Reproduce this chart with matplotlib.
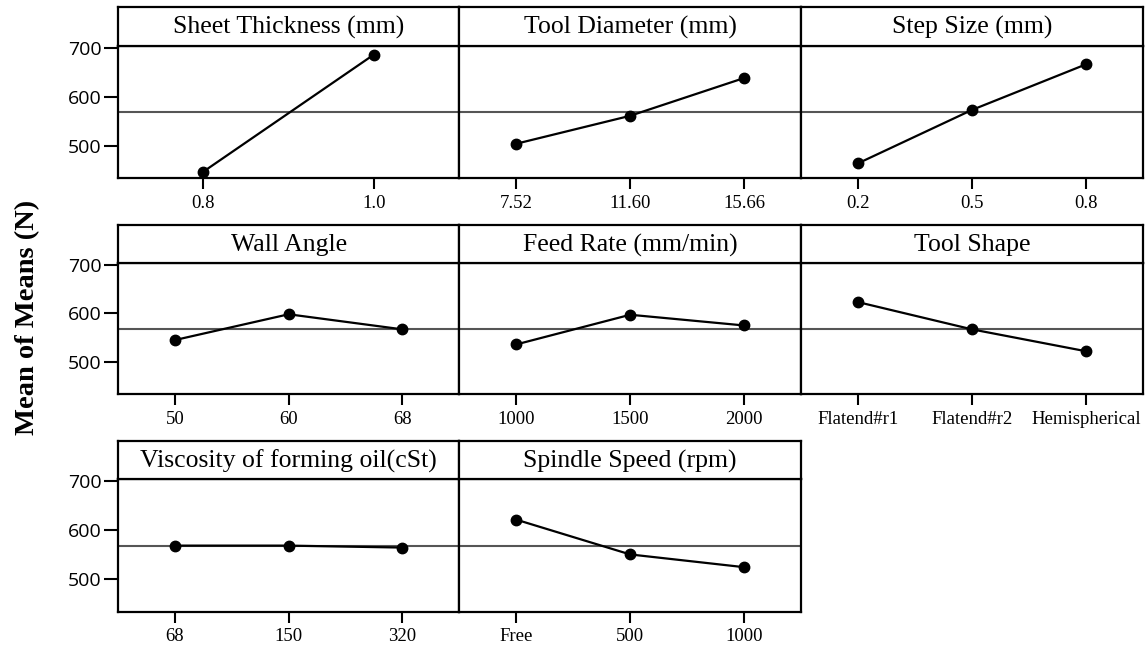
import matplotlib
matplotlib.use("Agg")
import matplotlib.pyplot as plt

# ---- data ----
titles = ["Sheet Thickness (mm)", "Tool Diameter (mm)", "Step Size (mm)",
          "Wall Angle", "Feed Rate (mm/min)", "Tool Shape",
          "Viscosity of forming oil(cSt)", "Spindle Speed (rpm)"]
levels_thickness = ["0.8", "1.0"]
levels_diameter = ["7.52", "11.60", "15.66"]
levels_step = ["0.2", "0.5", "0.8"]
levels_wall = ["50", "60", "68"]
levels_feed = ["1000", "1500", "2000"]
levels_shape = ["Flatend#r1", "Flatend#r2", "Hemispherical"]
levels_visc = ["68", "150", "320"]
levels_spindle = ["Free", "500", "1000"]

means_thickness = [447, 686]
means_diameter = [504, 561, 638]
means_step = [464, 573, 666]
means_wall = [545, 598, 567]
means_feed = [536, 597, 575]
means_shape = [623, 567, 522]
means_visc = [568, 568, 564]
means_spindle = [621, 550, 524]

grand_mean = 568
yticks = [500, 600, 700]
ylabel = "Mean of Means (N)"

levels_all = [levels_thickness, levels_diameter, levels_step, levels_wall,
              levels_feed, levels_shape, levels_visc, levels_spindle]
means_all = [means_thickness, means_diameter, means_step, means_wall,
             means_feed, means_shape, means_visc, means_spindle]

# ---- layout ----
W, H = 1146, 646
fig = plt.figure(figsize=(W / 100, H / 100), dpi=100)

col_x = [118, 459.3, 801, 1143]
rows = [(7.3, 45.7, 178.3), (225, 262.7, 394.3), (440.7, 479, 611.5)]
ylim = (433.5, 704)

serif = ["Liberation Serif", "DejaVu Serif"]
sans = ["Open Sans", "DejaVu Sans"]

for i, (title, levs, vals) in enumerate(zip(titles, levels_all, means_all)):
    r, c = divmod(i, 3)
    top, hdr, bot = rows[r]
    x0, x1 = col_x[c], col_x[c + 1]
    # data axes
    ax = fig.add_axes([x0 / W, 1 - bot / H, (x1 - x0) / W, (bot - hdr) / H])
    n = len(levs)
    xs = list(range(n))
    ax.axhline(grand_mean, color="#555555", lw=1.5, zorder=1)
    ax.plot(xs, vals, color="black", lw=1.6, marker="o", ms=7.5, zorder=3)
    ax.set_xlim(-0.5, n - 0.5)
    ax.set_ylim(*ylim)
    ax.set_xticks(xs)
    ax.set_xticklabels(levs, fontfamily=serif, fontsize=13.5)
    ax.tick_params(axis="x", length=8, width=1.5, pad=4)
    if c == 0:
        ax.set_yticks(yticks)
        ax.set_yticklabels([str(v) for v in yticks], fontfamily=sans, fontsize=14)
        ax.tick_params(axis="y", length=10, width=1.5, pad=2)
    else:
        ax.set_yticks([])
    for s in ax.spines.values():
        s.set_linewidth(1.6)
    # header strip
    hx = fig.add_axes([x0 / W, 1 - hdr / H, (x1 - x0) / W, (hdr - top) / H])
    hx.set_xticks([])
    hx.set_yticks([])
    for s in hx.spines.values():
        s.set_linewidth(1.6)
    hx.text(0.5, 0.47, title, ha="center", va="center", fontfamily=serif,
            fontsize=18.5, transform=hx.transAxes)

fig.text(28 / W, 1 - 317 / H, ylabel, rotation=90, ha="center", va="center",
         fontfamily=serif, fontsize=20.5, fontweight="bold")

fig.savefig("out.png", dpi=100, facecolor="white")
